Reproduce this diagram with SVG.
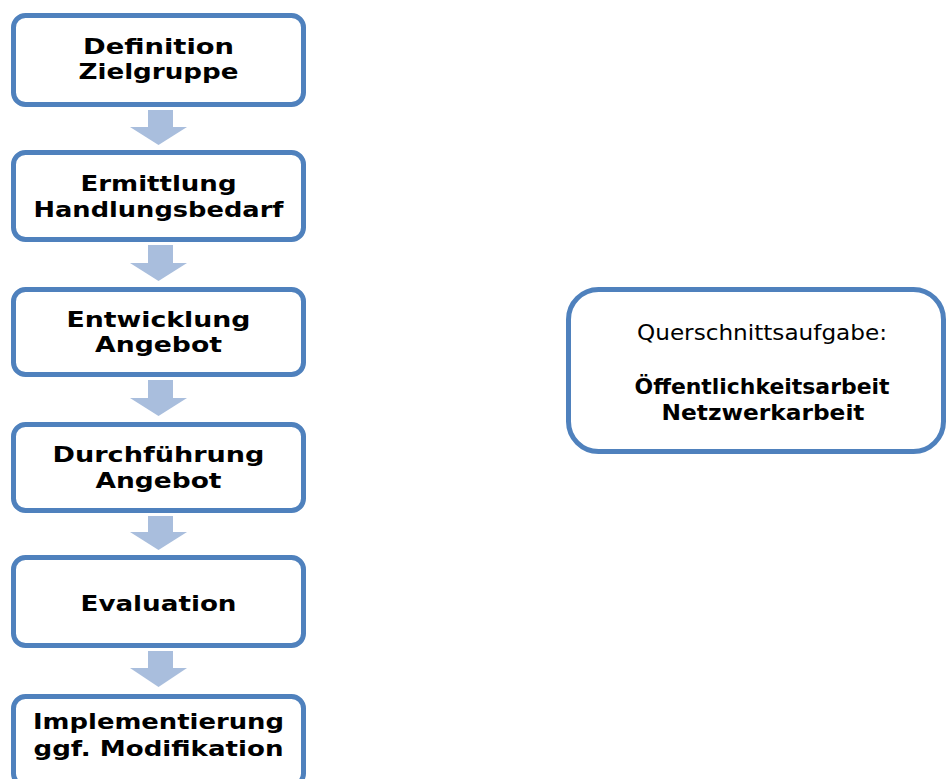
<svg xmlns="http://www.w3.org/2000/svg" width="947" height="779" viewBox="0 0 947 779">
  <style>
    .box { fill: #ffffff; stroke: #4F81BD; stroke-width: 5; }
    .lt { font-family: "DejaVu Sans", "Liberation Sans", sans-serif; font-weight: bold; font-size: 21px; fill: #000000; text-anchor: middle; }
    .rt { font-family: "DejaVu Sans", "Liberation Sans", sans-serif; font-size: 21px; fill: #000000; text-anchor: middle; }
    .rb { font-family: "DejaVu Sans", "Liberation Sans", sans-serif; font-weight: bold; font-size: 21px; fill: #000000; text-anchor: middle; }
    .arrow { fill: #A9BEDD; }
  </style>
  <rect width="947" height="779" fill="#ffffff"/>

  <g id="connectors">
    <polygon class="arrow" points="148,110 173,110 173,127 187,127 158.5,145 130,127 148,127"/>
    <polygon class="arrow" points="148,245 173,245 173,263 187,263 158.5,281 130,263 148,263"/>
    <polygon class="arrow" points="148,380 173,380 173,398 187,398 158.5,416 130,398 148,398"/>
    <polygon class="arrow" points="148,516 173,516 173,532 187,532 158.5,550 130,532 148,532"/>
    <polygon class="arrow" points="148,651 173,651 173,668 187,668 158.5,687 130,668 148,668"/>
  </g>

  <g id="node-definition">
    <rect class="box" x="13.5" y="15.5" width="290" height="89" rx="12"/>
    <text class="lt" x="158.5" y="54" textLength="151" lengthAdjust="spacingAndGlyphs">Definition</text>
    <text class="lt" x="158.5" y="79" textLength="160" lengthAdjust="spacingAndGlyphs">Zielgruppe</text>
  </g>

  <g id="node-ermittlung">
    <rect class="box" x="13.5" y="152.5" width="290" height="87" rx="12"/>
    <text class="lt" x="158.5" y="191" textLength="156" lengthAdjust="spacingAndGlyphs">Ermittlung</text>
    <text class="lt" x="158.5" y="216.5" textLength="250" lengthAdjust="spacingAndGlyphs">Handlungsbedarf</text>
  </g>

  <g id="node-entwicklung">
    <rect class="box" x="13.5" y="289.5" width="290" height="85" rx="12"/>
    <text class="lt" x="158.5" y="326.5" textLength="184" lengthAdjust="spacingAndGlyphs">Entwicklung</text>
    <text class="lt" x="158.5" y="352" textLength="127" lengthAdjust="spacingAndGlyphs">Angebot</text>
  </g>

  <g id="node-durchfuehrung">
    <rect class="box" x="13.5" y="424.5" width="290" height="86" rx="12"/>
    <text class="lt" x="158.5" y="462" textLength="212" lengthAdjust="spacingAndGlyphs">Durchführung</text>
    <text class="lt" x="158.5" y="488" textLength="126" lengthAdjust="spacingAndGlyphs">Angebot</text>
  </g>

  <g id="node-evaluation">
    <rect class="box" x="13.5" y="557.5" width="290" height="88" rx="12"/>
    <text class="lt" x="158.5" y="611" textLength="156" lengthAdjust="spacingAndGlyphs">Evaluation</text>
  </g>

  <g id="node-implementierung">
    <rect class="box" x="13.5" y="696.5" width="290" height="89" rx="12"/>
    <text class="lt" x="158.5" y="729" textLength="251" lengthAdjust="spacingAndGlyphs">Implementierung</text>
    <text class="lt" x="158.5" y="756" textLength="250" lengthAdjust="spacingAndGlyphs">ggf. Modifikation</text>
  </g>

  <g id="node-querschnitt">
    <rect class="box" x="568.5" y="289.5" width="375" height="162" rx="30"/>
    <text class="rt" x="762" y="340" textLength="250" lengthAdjust="spacingAndGlyphs">Querschnittsaufgabe:</text>
    <text class="rb" x="762" y="394" textLength="255" lengthAdjust="spacingAndGlyphs">Öffentlichkeitsarbeit</text>
    <text class="rb" x="763" y="419.5" textLength="203" lengthAdjust="spacingAndGlyphs">Netzwerkarbeit</text>
  </g>
</svg>
